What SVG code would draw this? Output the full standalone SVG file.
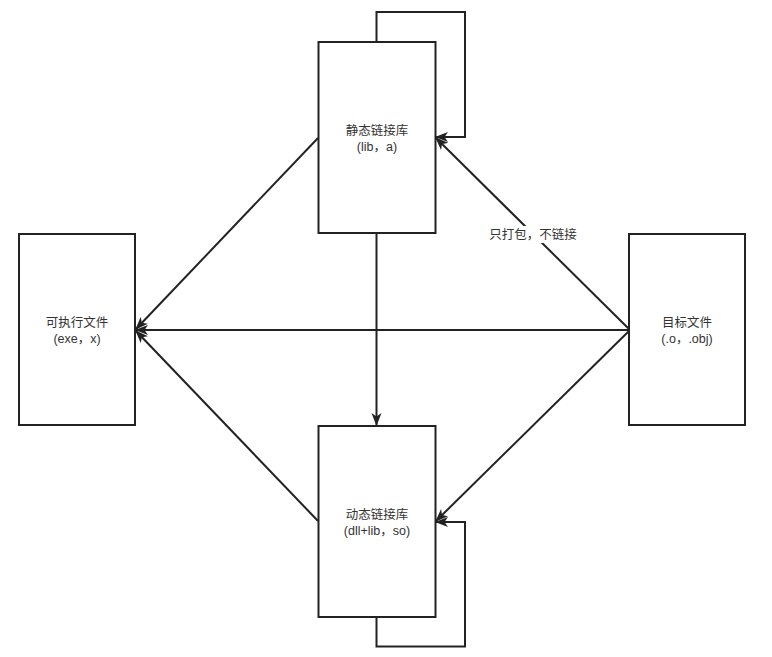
<svg xmlns="http://www.w3.org/2000/svg" width="772" height="657" viewBox="0 0 772 657">
<defs>
<style>
.box{fill:#fff;stroke:#222;stroke-width:2}
.t{font-family:"Liberation Sans","Noto Sans CJK SC",sans-serif;font-size:12.5px;fill:#333;text-anchor:middle}
.c{fill:none;stroke:#222;stroke-width:2;marker-end:url(#ah)}
</style>
<marker id="ah" markerUnits="userSpaceOnUse" markerWidth="14" markerHeight="12" refX="12" refY="5" orient="auto" viewBox="0 0 14 10">
<path d="M0,0 L13,5 L0,10 L3.5,5 Z" fill="#222"/>
</marker>
</defs>
<rect width="772" height="657" fill="#fff"/>
<g id="connectors">
<polyline class="c" points="376.5,42 376.5,12 465,12 465,137 436,137"/>
<polyline class="c" points="376.5,617 376.5,646.5 465,646.5 465,522 436,522"/>
<line class="c" x1="318" y1="138" x2="136" y2="329"/>
<line class="c" x1="629" y1="330" x2="136" y2="330"/>
<line class="c" x1="318" y1="521" x2="136" y2="331"/>
<line class="c" x1="376.5" y1="233" x2="376.5" y2="425"/>
<line class="c" x1="629" y1="329" x2="436" y2="138"/>
<line class="c" x1="629" y1="331" x2="436" y2="521"/>
<rect x="483" y="226" width="100" height="17" fill="#fff"/>
<text class="t" x="533" y="239">只打包，不链接</text>
</g>
<g id="static">
<rect class="box" x="318.5" y="42" width="117" height="191"/>
<text class="t" x="377" y="135">静态链接库</text>
<text class="t" x="377" y="151">(lib，a)</text>
</g>
<g id="exe">
<rect class="box" x="19" y="234" width="116" height="191"/>
<text class="t" x="77" y="327">可执行文件</text>
<text class="t" x="77" y="343">(exe，x)</text>
</g>
<g id="obj">
<rect class="box" x="629" y="234" width="116" height="191"/>
<text class="t" x="687" y="327">目标文件</text>
<text class="t" x="687" y="343">(.o，.obj)</text>
</g>
<g id="dynamic">
<rect class="box" x="318.5" y="426" width="117" height="191"/>
<text class="t" x="377" y="519">动态链接库</text>
<text class="t" x="377" y="535">(dll+lib，so)</text>
</g>
</svg>
